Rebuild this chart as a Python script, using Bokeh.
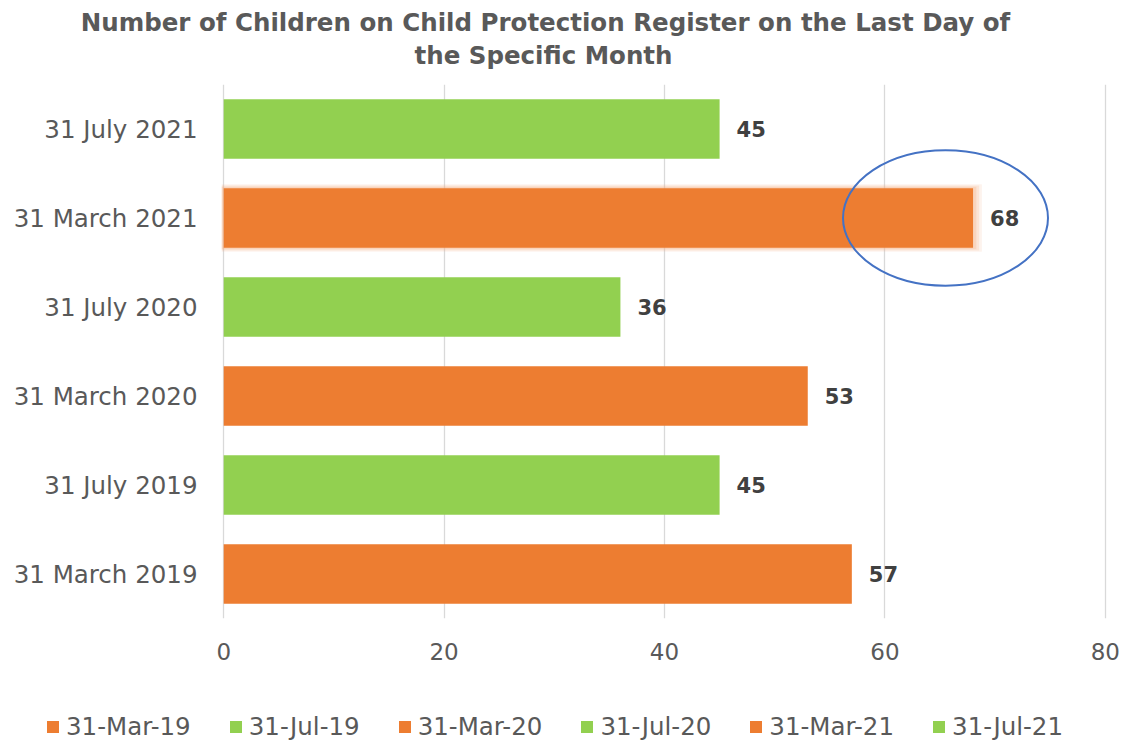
from bokeh.plotting import figure
from bokeh.models import (ColumnDataSource, Range1d, FixedTicker, Label, Legend, LegendItem)
from bokeh.layouts import column, row
from bokeh.embed import file_html
from bokeh.resources import INLINE

categories = ["31 March 2019", "31 July 2019", "31 March 2020", "31 July 2020", "31 March 2021", "31 July 2021"]
legend_labels = ["31-Mar-19", "31-Jul-19", "31-Mar-20", "31-Jul-20", "31-Mar-21", "31-Jul-21"]
values = [57, 45, 53, 36, 68, 45]
colors = ["#ED7D31", "#92D050", "#ED7D31", "#92D050", "#ED7D31", "#92D050"]
x_ticks = [0, 20, 40, 60, 80]
highlight_index = 4
title_lines = ["Number of Children on Child Protection Register on the Last Day of", "the Specific Month"]

FONT = "DejaVu Sans"
GRAY = "#595959"
W = 1130

ypos = list(range(len(categories)))
src = ColumnDataSource(dict(y=ypos, v=values, c=colors, lab=[str(v) for v in values]))

# ---- header with the two title lines
head = figure(frame_width=W, frame_height=84, output_backend="svg", toolbar_location=None,
              x_range=Range1d(0, W), y_range=Range1d(0, 84),
              x_axis_location=None, y_axis_location=None, min_border=0)
head.outline_line_color = None
head.grid.visible = False
for line, cx, cy in zip(title_lines, [545, 543], [62, 29]):
    head.add_layout(Label(x=cx, y=cy, text=line, text_align="center", text_baseline="middle",
                          text_font_size="24.5px", text_font_style="bold", text_color=GRAY, text_font=FONT))

# ---- main chart
p = figure(frame_width=886, frame_height=534, output_backend="svg", toolbar_location=None,
           x_range=Range1d(-0.2, 80.2), y_range=Range1d(-0.5, 5.5),
           min_border_left=221, min_border_right=23, min_border_top=0, min_border_bottom=70)
p.outline_line_color = None
p.background_fill_color = "white"

hv = values[highlight_index]
for pad, a in [(0.8, 0.15), (0.55, 0.2), (0.3, 0.3)]:
    p.hbar(y=[ypos[highlight_index]], left=[0 - pad], right=[hv + pad],
           height=0.67 + pad * 0.11, fill_color="#F4B183", fill_alpha=a, line_color=None)

bars = p.hbar(y="y", right="v", left=0, height=0.67, fill_color="c", line_color=None, source=src)

p.text(x="v", y="y", text="lab", source=src, x_offset=17, text_align="left", text_baseline="middle",
       text_font_size="21px", text_font_style="bold", text_color="#404040", text_font={"value": FONT})

p.ellipse(x=[65.5], y=[ypos[highlight_index]], width=[18.6], height=[1.52],
          fill_color=None, line_color="#4472C4", line_width=2)

p.xgrid.ticker = FixedTicker(ticks=x_ticks)
p.xgrid.grid_line_color = "#D9D9D9"
p.xgrid.grid_line_width = 1.3
p.ygrid.grid_line_color = None

p.xaxis.ticker = FixedTicker(ticks=x_ticks)
p.xaxis.axis_line_color = None
p.xaxis.major_tick_line_color = None
p.xaxis.minor_tick_line_color = None
p.xaxis.major_label_text_font_size = "23px"
p.xaxis.major_label_text_color = GRAY
p.xaxis.major_label_text_font = FONT
p.xaxis.major_label_standoff = 18

p.yaxis.ticker = FixedTicker(ticks=ypos)
p.yaxis.major_label_overrides = {i: c for i, c in enumerate(categories)}
p.yaxis.axis_line_color = None
p.yaxis.major_tick_line_color = None
p.yaxis.minor_tick_line_color = None
p.yaxis.major_label_text_font_size = "24.5px"
p.yaxis.major_label_text_color = GRAY
p.yaxis.major_label_text_font = FONT
p.yaxis.major_label_standoff = 18

# ---- legend strip
foot = figure(frame_width=W, frame_height=57, output_backend="svg", toolbar_location=None,
              x_range=Range1d(1000, 1001), y_range=Range1d(1000, 1001),
              x_axis_location=None, y_axis_location=None, min_border=0)
foot.outline_line_color = None
foot.grid.visible = False
fbars = foot.hbar(y="y", right="v", left=0, height=0.67, fill_color="c", line_color=None, source=src)
items = [LegendItem(label=legend_labels[i], renderers=[fbars], index=i) for i in range(len(values))]
legend = Legend(items=items, orientation="horizontal", location=(45, 4),
                label_text_font_size="24.5px", label_text_color=GRAY, label_text_font=FONT,
                glyph_width=15, glyph_height=15, label_standoff=6, spacing=37,
                border_line_color=None, background_fill_alpha=0, padding=0, margin=0)
foot.add_layout(legend, "center")

layout = column(row(head), row(p), row(foot), spacing=0)
open("out.html", "w").write(file_html(layout, INLINE))
